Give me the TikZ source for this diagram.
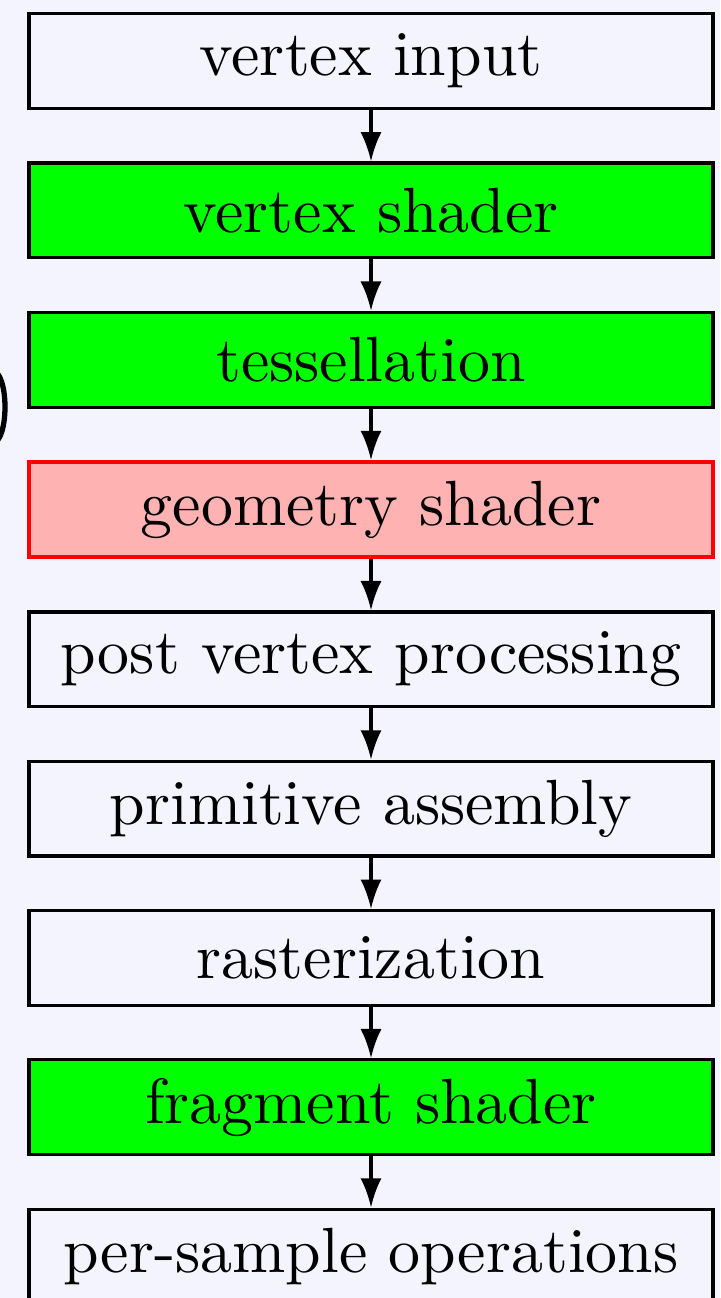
\documentclass[tikz,border=0pt]{standalone}
\usetikzlibrary{matrix,arrows.meta}
\definecolor{bgcol}{RGB}{244,244,255}
\tikzstyle{stage} = [draw=black, fill=bgcol, line width=0.55pt, minimum width=4.1cm, minimum height=0.568cm, inner sep=0pt, font=\fontsize{10.9}{13}\selectfont]
\tikzstyle{shaderstage} = [stage, fill=green]
\tikzstyle{optstage} = [stage, draw=red, fill=red!30, line width=0.7pt]
\tikzstyle{flow} = [line width=0.55pt, -{Latex[length=5pt,width=3.6pt]}]

\begin{document}
\begin{tikzpicture}[x=0.006cm,y=-0.006cm]%
				\fill[bgcol] (0,0) rectangle (720,1298);%
				\useasboundingbox (0,0) rectangle (720,1298);%
				\matrix (pipe) at (371,11) [matrix of nodes, nodes={stage}, inner sep=0pt,%
				anchor=north,%
				row sep={0.308cm}] { vertex input \\%
	 |[shaderstage]| vertex shader \\%
	 |[shaderstage]| tessellation \\%
	 |[optstage]| geometry shader \\%
	 post vertex processing \\%
	 primitive assembly \\%
	 rasterization \\%
	 |[shaderstage]| fragment shader \\%
	 per-sample operations \\%
					};%
				\foreach \i [count=\j from 2] in {1,...,8}%
					\draw[flow] (pipe-\i-1) -- (pipe-\j-1);%
				\draw[line width=0.9pt] (-6,442) arc[start angle=90, end angle=-90, x radius=11, y radius=35];%
	\end{tikzpicture}
\end{document}
